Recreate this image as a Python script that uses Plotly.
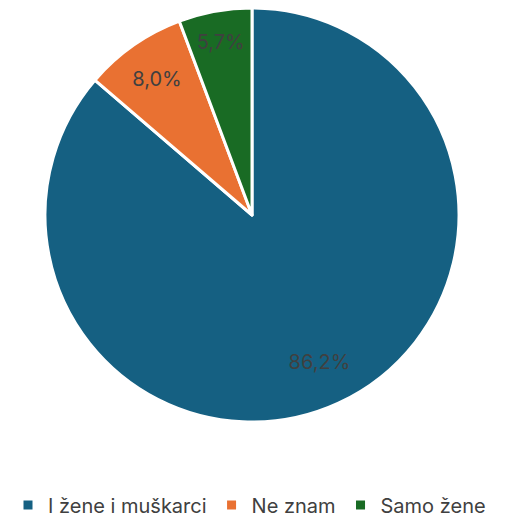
import plotly.graph_objects as go

labels = ["I žene i muškarci", "Ne znam", "Samo žene"]
values = [86.2, 8.0, 5.7]
colors = ["#156082", "#E97132", "#196B24"]

dom = dict(x=[37/507, 451/507], y=[1-414/521, 1.0])

# slices with white separators
fig = go.Figure(go.Pie(
    labels=labels,
    values=values,
    sort=False,
    direction="clockwise",
    rotation=0,
    marker=dict(colors=colors, line=dict(color="white", width=3)),
    textinfo="none",
    domain=dom,
    hoverinfo="label+value",
))

# transparent ring carrying the data labels (pushes them outward like Excel)
fig.add_trace(go.Pie(
    labels=labels,
    values=values,
    sort=False,
    direction="clockwise",
    rotation=0,
    hole=0.56,
    marker=dict(colors=["rgba(0,0,0,0)"] * 3, line=dict(width=0)),
    texttemplate="%{value:.1f}%",
    textposition="inside",
    insidetextorientation="horizontal",
    textfont=dict(color="#404040", size=20),
    domain=dom,
    showlegend=False,
    hoverinfo="skip",
))

fig.update_layout(
    width=507, height=521,
    margin=dict(l=0, r=0, t=0, b=0),
    paper_bgcolor="white",
    separators=",.",
    font=dict(family="Inter, Open Sans, sans-serif", color="#404040"),
    showlegend=True,
    legend=dict(
        orientation="h",
        x=0.0, xanchor="left",
        y=1-497/521, yanchor="middle",
        font=dict(size=20, color="#404040"),
        itemwidth=30,
    ),
)

fig.write_html("out.html")
